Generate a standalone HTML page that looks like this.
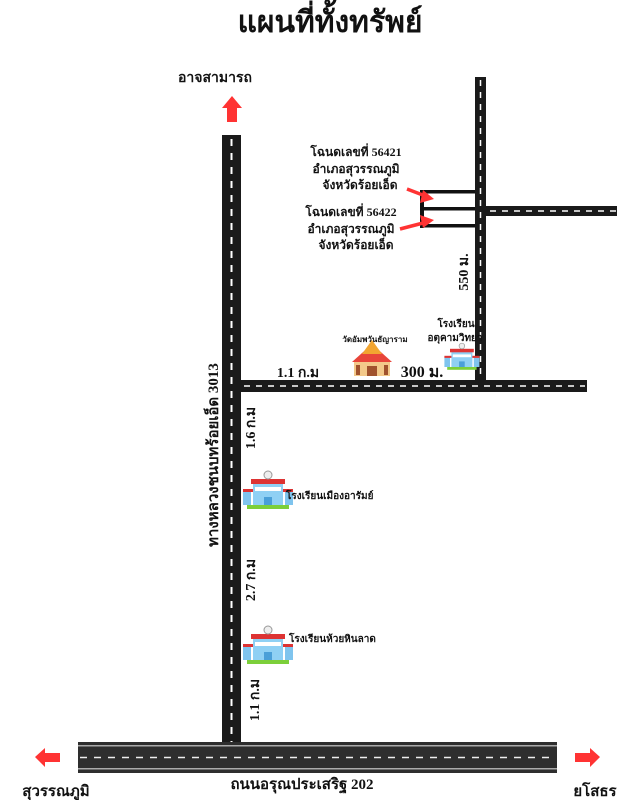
<!DOCTYPE html>
<html><head><meta charset="utf-8"><style>
html,body{margin:0;padding:0;background:#fff;}
svg{display:block;}
text{font-family:"Liberation Serif","Noto Serif CJK SC","Noto Sans CJK SC",serif;font-weight:bold;fill:#111;}
</style></head><body>
<svg width="643" height="800" viewBox="0 0 643 800" xmlns="http://www.w3.org/2000/svg">
<defs>
<g id="school">
  <rect x="-14" y="10" width="42" height="4" fill="#7ccf3a"/>
  <rect x="-18" y="-4" width="8" height="14" fill="#7fc4ee"/>
  <rect x="24" y="-4" width="8" height="14" fill="#7fc4ee"/>
  <rect x="-18" y="-6" width="50" height="3" fill="#d33"/>
  <rect x="-8" y="-12" width="30" height="22" fill="#8fd0f4"/>
  <rect x="-10" y="-16" width="34" height="5" fill="#d33"/>
  <circle cx="7" cy="-20" r="4" fill="#eee" stroke="#999"/>
  <rect x="-6" y="-8" width="26" height="4" fill="#fff"/>
  <rect x="3" y="2" width="8" height="8" fill="#4a9fd8"/>
</g>
</defs>
<text x="330" y="32" font-size="30" text-anchor="middle">แผนที่ทั้งทรัพย์</text>
<text x="215" y="82" font-size="14" text-anchor="middle">อาจสามารถ</text>
<polygon points="232,96 242,108 237,108 237,122 227,122 227,108 222,108" fill="#f33"/>

<!-- main vertical road -->
<rect x="222" y="135" width="19" height="610" fill="#1a1a1a"/>
<line x1="231.5" y1="139" x2="231.5" y2="742" stroke="#fff" stroke-width="2" stroke-dasharray="7,7"/>
<!-- horizontal road -->
<rect x="240" y="380" width="347" height="12" fill="#1a1a1a"/>
<line x1="244" y1="386" x2="585" y2="386" stroke="#fff" stroke-width="1.5" stroke-dasharray="6,6"/>
<!-- right vertical -->
<rect x="475" y="77" width="11" height="306" fill="#1a1a1a"/>
<line x1="480.5" y1="80" x2="480.5" y2="380" stroke="#fff" stroke-width="1.5" stroke-dasharray="6,6"/>
<!-- branch -->
<rect x="486" y="206" width="131" height="10" fill="#1a1a1a"/>
<line x1="490" y1="211" x2="616" y2="211" stroke="#fff" stroke-width="1.5" stroke-dasharray="6,6"/>
<!-- plots -->
<rect x="420" y="190" width="4" height="38" fill="#111"/>
<rect x="420" y="190" width="55" height="3.5" fill="#111"/>
<rect x="420" y="207" width="55" height="3.5" fill="#111"/>
<rect x="420" y="224" width="55" height="3.5" fill="#111"/>
<line x1="407" y1="189" x2="428" y2="197" stroke="#f33" stroke-width="3.5"/>
<polygon points="434,199 423,190 420,203" fill="#f33"/>
<line x1="400" y1="229" x2="427" y2="222" stroke="#f33" stroke-width="3.5"/>
<polygon points="434,220 420,215 423,228" fill="#f33"/>

<text x="356" y="156" font-size="12" text-anchor="middle">โฉนดเลขที่ 56421</text>
<text x="356" y="173" font-size="12" text-anchor="middle">อำเภอสุวรรณภูมิ</text>
<text x="360" y="189" font-size="12" text-anchor="middle">จังหวัดร้อยเอ็ด</text>
<text x="351" y="216" font-size="12" text-anchor="middle">โฉนดเลขที่ 56422</text>
<text x="351" y="233" font-size="12" text-anchor="middle">อำเภอสุวรรณภูมิ</text>
<text x="356" y="249" font-size="12" text-anchor="middle">จังหวัดร้อยเอ็ด</text>

<text transform="translate(468,272) rotate(-90)" font-size="14" text-anchor="middle">550 ม.</text>
<text x="456" y="327" font-size="10" text-anchor="middle">โรงเรียน</text>
<text x="455" y="341" font-size="10" text-anchor="middle">อตุคามวิทยา</text>
<use href="#school" transform="translate(457,360) scale(0.7)"/>

<text x="375" y="342" font-size="8" text-anchor="middle">วัดอัมพวันธัญาราม</text>
<g transform="translate(372,366)">
  <rect x="-18" y="-6" width="36" height="16" fill="#f3c98a"/>
  <polygon points="-20,-4 0,-22 20,-4" fill="#e8453a"/>
  <polygon points="-10,-12 0,-26 10,-12" fill="#f2a531"/>
  <rect x="-5" y="0" width="10" height="10" fill="#a0522d"/>
  <rect x="-16" y="-1" width="4" height="10" fill="#a0522d"/>
  <rect x="12" y="-1" width="4" height="10" fill="#a0522d"/>
</g>
<text x="298" y="377" font-size="14" text-anchor="middle">1.1 ก.ม</text>
<text x="422" y="377" font-size="16" text-anchor="middle">300 ม.</text>

<text transform="translate(218,455) rotate(-90)" font-size="15" text-anchor="middle">ทางหลวงชนบทร้อยเอ็ด 3013</text>
<text transform="translate(255,428) rotate(-90)" font-size="14" text-anchor="middle">1.6 ก.ม</text>
<text transform="translate(255,580) rotate(-90)" font-size="14" text-anchor="middle">2.7 ก.ม</text>
<text transform="translate(259,700) rotate(-90)" font-size="14" text-anchor="middle">1.1 ก.ม</text>

<use href="#school" transform="translate(261,495)"/>
<text x="286" y="499" font-size="10">โรงเรียนเมืองอารัมย์</text>
<use href="#school" transform="translate(261,650)"/>
<text x="289" y="642" font-size="10">โรงเรียนห้วยหินลาด</text>

<rect x="78" y="742" width="479" height="31" fill="#2e2e2e"/>
<rect x="78" y="745" width="479" height="1.5" fill="#aaa"/>
<rect x="78" y="768" width="479" height="1.5" fill="#aaa"/>
<line x1="80" y1="757.5" x2="556" y2="757.5" stroke="#eee" stroke-width="1.5" stroke-dasharray="7,7"/>
<polygon points="35,757 45,748 45,753 60,753 60,762 45,762 45,767" fill="#f33"/>
<polygon points="600,757 590,748 590,753 575,753 575,762 590,762 590,767" fill="#f33"/>
<text x="302" y="789" font-size="15" text-anchor="middle">ถนนอรุณประเสริฐ 202</text>
<text x="56" y="796" font-size="15" text-anchor="middle">สุวรรณภูมิ</text>
<text x="595" y="796" font-size="15" text-anchor="middle">ยโสธร</text>
</svg>
</body></html>
